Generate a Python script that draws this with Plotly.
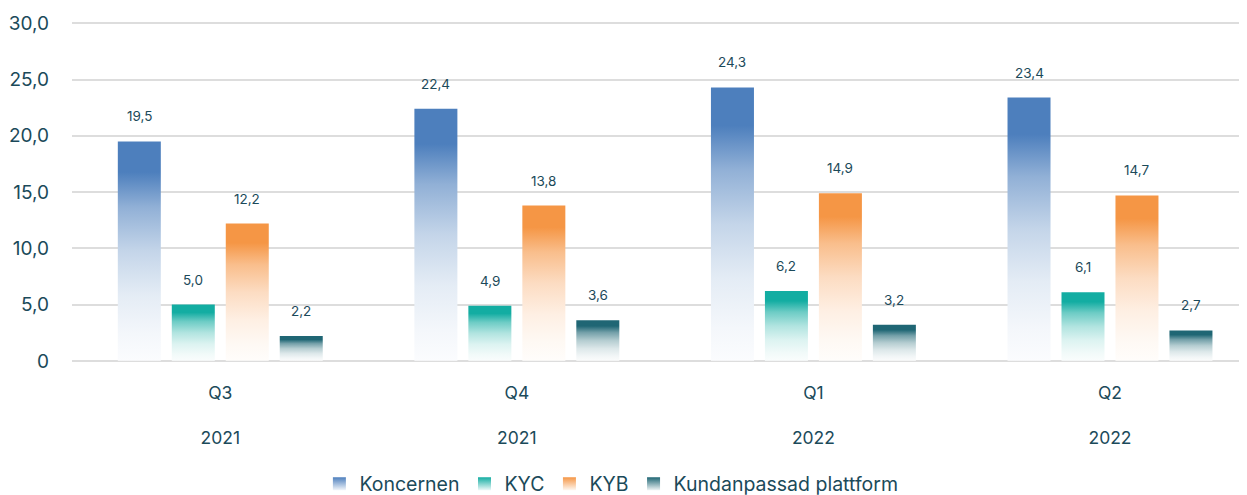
import plotly.graph_objects as go

quarters = ["Q3", "Q4", "Q1", "Q2"]
years = ["2021", "2021", "2022", "2022"]
series_names = ["Koncernen", "KYC", "KYB", "Kundanpassad plattform"]
koncernen = [19.5, 22.4, 24.3, 23.4]
kyc = [5.0, 4.9, 6.2, 6.1]
kyb = [12.2, 13.8, 14.9, 14.7]
kundanpassad = [2.2, 3.6, 3.2, 2.7]
y_ticks = [0, 5, 10, 15, 20, 25, 30]

series_values = [koncernen, kyc, kyb, kundanpassad]
colors = ["#4d7fbd", "#13ada2", "#f59645", "#1f6674"]
text_color = "#1b4a5a"
font_family = "Inter, Roboto, Arial, sans-serif"

BAR_W = 0.145
PITCH = 0.182


def hex_rgb(h):
    h = h.lstrip("#")
    return tuple(int(h[i:i + 2], 16) for i in (0, 2, 4))


def mix(h, t):
    r, g, b = hex_rgb(h)
    return "rgb(%d,%d,%d)" % (round(255 + (r - 255) * t), round(255 + (g - 255) * t), round(255 + (b - 255) * t))


def scale_for(h):
    stops = [(0.0, 0.02), (0.12, 0.06), (0.3, 0.15), (0.5, 0.33), (0.7, 0.62), (0.86, 1.0), (1.0, 1.0)]
    return [[p, mix(h, t)] for p, t in stops]


def fmt(v):
    return ("%.1f" % v).replace(".", ",")


fig = go.Figure()
annotations = []
for si, (name, vals, col) in enumerate(zip(series_names, series_values, colors)):
    off = (si - 1.5) * PITCH
    for gi, v in enumerate(vals):
        xc = gi + off
        x0, x1 = xc - BAR_W / 2, xc + BAR_W / 2
        fig.add_trace(go.Scatter(
            x=[x0, x1, x1, x0, x0], y=[0, 0, v, v, 0],
            mode="lines", fill="toself", line=dict(width=0, color=col),
            fillgradient=dict(type="vertical", colorscale=scale_for(col), start=0, stop=v),
            hoverinfo="skip", showlegend=False,
        ))
        annotations.append(dict(
            x=xc, y=v, xref="x", yref="y", text=fmt(v), showarrow=False,
            yanchor="middle", yshift=25, font=dict(size=13.5, color=text_color, family=font_family),
        ))
    # legend entry
    fig.add_trace(go.Scatter(
        x=[None], y=[None], mode="markers", name=name,
        marker=dict(symbol="square", size=13, color=col, gradient=dict(type="vertical", color=mix(col, 0.08))),
    ))

# The page body has an 8px margin, so the figure is sized to the remaining window.
fig.update_layout(
    width=1239, height=487,
    margin=dict(l=64, r=0, t=13, b=133, autoexpand=False),
    paper_bgcolor="white", plot_bgcolor="white",
    font=dict(family=font_family, color=text_color),
    showlegend=True,
    legend=dict(orientation="h", xref="container", yref="container", x=0.487, xanchor="center",
                y=0.0226, yanchor="middle", font=dict(size=19.5, color=text_color),
                itemclick=False, itemdoubleclick=False),
    annotations=annotations,
    xaxis=dict(range=[-0.5, 3.462], tickmode="array", tickvals=list(range(len(quarters))),
               ticktext=[q + "<br><br>" + y for q, y in zip(quarters, years)],
               showgrid=False, zeroline=False, showline=False, ticks="", automargin=False,
               ticklabelstandoff=18,
               tickfont=dict(size=17.5, color=text_color), fixedrange=True),
    yaxis=dict(range=[-0.1, 30.2], tickmode="array", tickvals=y_ticks,
               ticktext=["0" if t == 0 else fmt(t) for t in y_ticks],
               showgrid=True, gridcolor="#dddddd", gridwidth=2, zeroline=False, showline=False,
               ticks="", automargin=False, ticklabelstandoff=22,
               tickfont=dict(size=19, color=text_color), fixedrange=True),
)

fig.write_html("out.html")
